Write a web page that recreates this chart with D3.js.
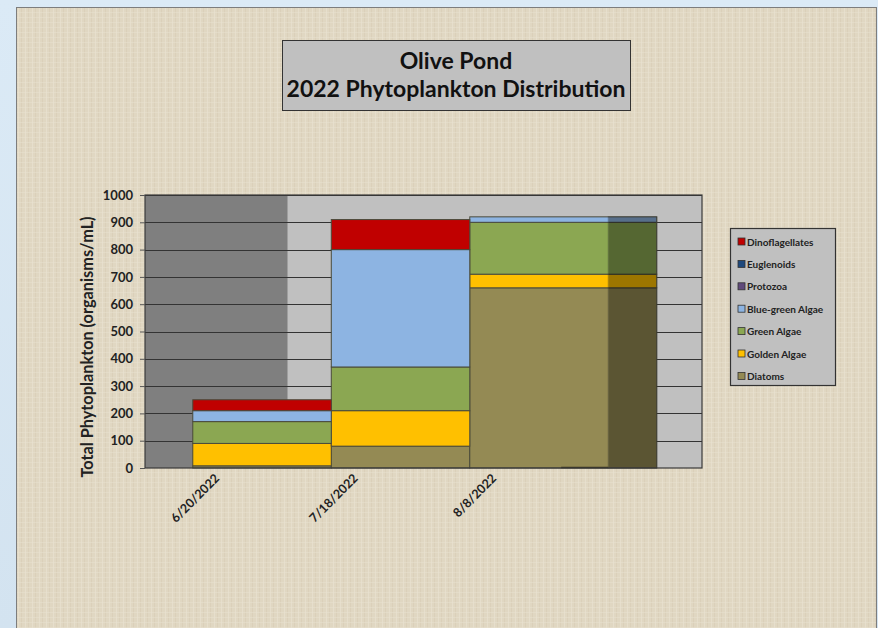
<!DOCTYPE html>
<html>
<head>
<meta charset="utf-8">
<script src="https://cdn.jsdelivr.net/npm/d3@7"></script>
<style>
html,body{margin:0;padding:0;background:#d9e9f5;}
svg{display:block;font-family:Lato,"Open Sans",sans-serif;}
</style>
</head>
<body>
<svg id="chart" width="878" height="628"></svg>
<script>
// ---- data ----
const categories = ["6/20/2022", "7/18/2022", "8/8/2022"];
const seriesNames = ["Diatoms", "Golden Algae", "Green Algae", "Blue-green Algae", "Protozoa", "Euglenoids", "Dinoflagellates"];
const seriesColors = ["#948a54", "#ffc000", "#8ba752", "#8db4e2", "#604a7b", "#1f497d", "#c00000"];
const diatoms        = [8, 80, 660];
const goldenAlgae    = [82, 130, 50];
const greenAlgae     = [80, 160, 190];
const blueGreenAlgae = [40, 430, 20];
const protozoa       = [0, 0, 0];
const euglenoids     = [0, 0, 0];
const dinoflagellates= [40, 110, 0];
const yTicks = [0, 100, 200, 300, 400, 500, 600, 700, 800, 900, 1000];
const titleLines = ["Olive Pond", "2022 Phytoplankton Distribution"];
const yTitle = "Total Phytoplankton (organisms/mL)";

const seriesValues = [diatoms, goldenAlgae, greenAlgae, blueGreenAlgae, protozoa, euglenoids, dinoflagellates];
const rows = categories.map((c, i) => {
  const r = {cat: c};
  seriesNames.forEach((s, k) => r[s] = seriesValues[k][i]);
  return r;
});

const svg = d3.select("#chart");

// background panel
const defs = svg.append("defs");
const pat = defs.append("pattern").attr("id", "linen").attr("patternUnits", "userSpaceOnUse")
  .attr("width", 7).attr("height", 5);
pat.append("rect").attr("width", 7).attr("height", 5).attr("fill", "#e0d7c2");
pat.append("rect").attr("x", 0).attr("width", 1).attr("height", 5).attr("fill", "#d5cab2").attr("opacity", 0.5);
pat.append("rect").attr("x", 4).attr("width", 1).attr("height", 5).attr("fill", "#e9e2d2").attr("opacity", 0.6);
pat.append("rect").attr("y", 2).attr("width", 7).attr("height", 1).attr("fill", "#e8e1d0").attr("opacity", 0.5);

const bgGrad = defs.append("linearGradient").attr("id", "bgblue").attr("x1", 0).attr("x2", 0).attr("y1", 0).attr("y2", 1);
bgGrad.append("stop").attr("offset", 0).attr("stop-color", "#dbeaf6");
bgGrad.append("stop").attr("offset", 1).attr("stop-color", "#d3e3f0");
svg.append("rect").attr("width", 878).attr("height", 628).attr("fill", "url(#bgblue)");
svg.append("rect").attr("x", 16.5).attr("y", 7.5).attr("width", 860).attr("height", 625)
  .attr("fill", "url(#linen)").attr("stroke", "#7d7d7d").attr("stroke-width", 1);

// scales
const plot = {left: 145, right: 702, top: 195, bottom: 468};
const x = d3.scaleBand().domain([...categories, ""]).range([plot.left, 699]).padding(0);
const bw = x.bandwidth();
const barOffset = bw * 0.345;
const y = d3.scaleLinear().domain([0, 1000]).range([plot.bottom, plot.top]);

// plot area
svg.append("rect").attr("x", plot.left).attr("y", plot.top)
  .attr("width", plot.right - plot.left).attr("height", plot.bottom - plot.top)
  .attr("fill", "#c0c0c0");
svg.append("rect").attr("x", plot.left).attr("y", plot.top)
  .attr("width", x(categories[1]) + 4 - plot.left).attr("height", plot.bottom - plot.top)
  .attr("fill", "#7f7f7f");

// gridlines
svg.append("g").selectAll("line").data(yTicks.filter(t => t > 0)).join("line")
  .attr("x1", plot.left).attr("x2", plot.right)
  .attr("y1", d => Math.round(y(d)) + 0.5).attr("y2", d => Math.round(y(d)) + 0.5)
  .attr("stroke", "#333").attr("stroke-width", 1.2);

// stacked bars
const stack = d3.stack().keys(seriesNames)(rows);
const gBars = svg.append("g");
stack.forEach((layer, k) => {
  gBars.selectAll(null).data(layer.filter(d => d[1] - d[0] > 0)).join("rect")
    .attr("x", d => x(d.data.cat) + barOffset)
    .attr("y", d => y(d[1]))
    .attr("width", d => d.data.cat === categories[2] ? bw * 1.35 : bw)
    .attr("height", d => y(d[0]) - y(d[1]))
    .attr("fill", seriesColors[k])
    .attr("stroke", "#4a4a3a").attr("stroke-width", 1);
});
// dark shade on right part of last bar
const last = rows[2];
const lastTotal = d3.sum(seriesNames, s => last[s]);
svg.append("rect")
  .attr("x", x(categories[2]) + barOffset + bw)
  .attr("y", y(lastTotal))
  .attr("width", bw * 0.35)
  .attr("height", y(0) - y(lastTotal))
  .attr("fill", "#000").attr("opacity", 0.38)
  .attr("stroke", "#222").attr("stroke-width", 1);
// dark baseline under the last bar
svg.append("line")
  .attr("x1", x(categories[2]) + barOffset + bw * 0.66).attr("x2", x(categories[2]) + barOffset + bw)
  .attr("y1", y(0) - 0.5).attr("y2", y(0) - 0.5)
  .attr("stroke", "#3a3520").attr("stroke-width", 1.5);

// plot border
svg.append("rect").attr("x", plot.left).attr("y", plot.top)
  .attr("width", plot.right - plot.left).attr("height", plot.bottom - plot.top)
  .attr("fill", "none").attr("stroke", "#3a3a3a").attr("stroke-width", 1.2);

// y axis
const yAxis = d3.axisLeft(y).tickValues(yTicks).tickFormat(d3.format("d")).tickSize(5).tickPadding(7);
const gy = svg.append("g").attr("transform", `translate(${plot.left},0)`).call(yAxis);
gy.select(".domain").remove();
gy.selectAll(".tick line").attr("stroke", "#555");
gy.selectAll("text").attr("font-size", 13).attr("font-weight", "bold").attr("fill", "#222")
  .attr("font-family", "Lato, sans-serif");

// x axis labels
const gx = svg.append("g");
gx.selectAll("text").data(categories).join("text")
  .attr("transform", d => `translate(${x(d) + bw / 2 + 6},${plot.bottom + 11}) rotate(-45)`)
  .attr("text-anchor", "end").attr("font-size", 12.5).attr("font-weight", "bold").attr("fill", "#222")
  .text(d => d);

// y title
svg.append("text")
  .attr("transform", `translate(93,347) rotate(-90)`)
  .attr("text-anchor", "middle").attr("font-size", 16.3).attr("font-weight", "bold").attr("fill", "#222")
  .text(yTitle);

// title box
svg.append("rect").attr("x", 282.5).attr("y", 40.5).attr("width", 348).attr("height", 70)
  .attr("fill", "#c0c0c0").attr("stroke", "#333").attr("stroke-width", 1);
svg.append("text").attr("x", 456).attr("y", 69).attr("text-anchor", "middle")
  .attr("font-size", 23).attr("font-weight", "bold").attr("fill", "#111").text(titleLines[0]);
svg.append("text").attr("x", 456).attr("y", 97).attr("text-anchor", "middle")
  .attr("font-size", 23).attr("font-weight", "bold").attr("fill", "#111").text(titleLines[1]);

// legend
const legendOrder = seriesNames.map((s, k) => ({name: s, color: seriesColors[k]})).reverse();
svg.append("rect").attr("x", 730.5).attr("y", 228.5).attr("width", 105).attr("height", 157)
  .attr("fill", "#c0c0c0").attr("stroke", "#333").attr("stroke-width", 1.2);
const lg = svg.append("g").selectAll("g").data(legendOrder).join("g")
  .attr("transform", (d, i) => `translate(738,${242 + i * 22.4})`);
lg.append("rect").attr("x", 0).attr("y", -4).attr("width", 7).attr("height", 7)
  .attr("fill", d => d.color).attr("stroke", "#333").attr("stroke-width", 0.8);
lg.append("text").attr("x", 9).attr("y", 3.5).attr("font-size", 10).attr("font-weight", "bold")
  .attr("fill", "#222").text(d => d.name);
</script>
</body>
</html>
